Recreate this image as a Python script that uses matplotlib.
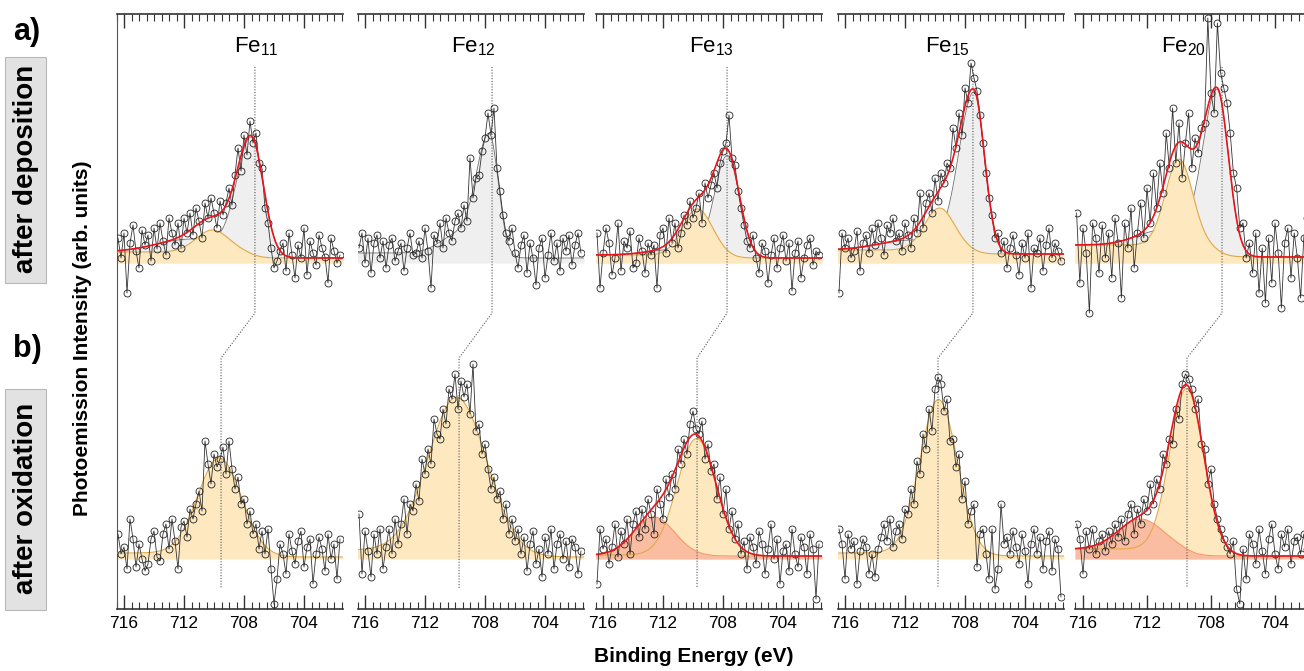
import numpy as np
import matplotlib
matplotlib.use("Agg")
import matplotlib.pyplot as plt
from matplotlib.patches import Rectangle
from matplotlib.ticker import MultipleLocator, FixedLocator

plt.rcParams['font.family'] = ['Liberation Sans', 'DejaVu Sans']
plt.rcParams['mathtext.fontset'] = 'custom'
plt.rcParams['mathtext.rm'] = 'Liberation Sans'
plt.rcParams['mathtext.it'] = 'Liberation Sans:italic'

# binding energy grid of the measured spectra (eV)
energy = np.round(np.arange(716.4, 701.55, -0.2), 1)

clusters = ['Fe$_{11}$', 'Fe$_{12}$', 'Fe$_{13}$', 'Fe$_{15}$', 'Fe$_{20}$']

# measured intensities above baseline (arb. units), after deposition
dep_fe11 = [25, 5, 30, -30, 20, 38, 12, -5, 33, 18,
            28, 2, 35, 14, 40, 22, 8, 45, 30, 18,
            40, 15, 45, 30, 50, 28, 55, 42, 25, 60,
            45, 65, 50, 35, 62, 48, 60, 75, 58, 88,
            115, 92, 128, 108, 142, 120, 130, 100, 95, 55,
            40, 15, -5, 2, 12, 20, -8, 30, 8, -15,
            18, 5, 35, -12, 22, 10, -2, 28, 15, 6,
            -20, 25, 12, 0, 8]
dep_fe12 = [15, 30, 0, 25, -10, 20, 28, 5, 22, -5,
            18, 25, 2, 12, 20, -8, 15, 30, 8, 10,
            22, 5, 35, 12, -25, 28, 20, 40, 15, 45,
            30, 22, 42, 50, 35, 58, 42, 105, 65, 85,
            88, 112, 125, 150, 128, 155, 95, 72, 48, 30,
            22, 35, 10, -5, 18, 28, -10, 20, 5, -22,
            15, 25, -15, 8, 30, 2, 20, -8, 25, 12,
            28, -2, 18, 30, 10]
dep_fe13 = [30, -25, 10, 35, 20, -12, 5, 40, -8, 22,
            15, 32, -5, 0, 25, 12, -10, 20, 8, 18,
            -25, 28, 35, 10, 45, 20, 40, 15, 30, 48,
            38, 62, 45, 55, 70, 40, 80, 65, 78, 90,
            75, 100, 112, 120, 148, 105, 98, 72, 55, 38,
            22, 15, 28, 5, -10, 20, 12, -20, 8, 25,
            -5, 15, 28, 2, 20, -28, 10, 22, -15, 5,
            18, 25, -2, 12, 8]
dep_fe15 = [-30, 30, 15, 25, 5, 12, 32, -8, 20, 28,
            10, 35, 18, 40, 25, 8, 38, 30, 45, 22,
            30, 12, 40, 28, 15, 45, 30, 70, 35, 60,
            70, 50, 85, 62, 90, 80, 100, 95, 135, 115,
            150, 128, 175, 160, 200, 185, 172, 148, 120, 90,
            65, 48, 25, 30, 10, 22, -5, 15, 28, 8,
            -12, 20, 5, 30, -25, 15, 10, 25, -8, 18,
            35, 5, 20, 12, 2]
dep_fe20 = [50, -20, 35, 10, -50, 40, 25, -10, 38, 5,
            30, -15, 45, 20, -35, 40, 15, 55, -5, 30,
            60, 25, 75, 40, 90, 55, 100, 70, 130, 95,
            155, 100, 140, 85, 120, 150, 95, 125, 110, 135,
            140, 245, 170, 150, 240, 190, 175, 160, 130, 90,
            75, 35, 40, 5, 20, -10, 30, -30, 15, -40,
            25, -20, 40, 10, -45, 20, 35, -15, 30, 5,
            -35, 25, 45, -10, 20]

# measured intensities above baseline (arb. units), after oxidation
ox_fe11 = [25, 5, 12, -10, 40, 20, -8, 15, 0, -12,
           -5, 20, 28, 2, -2, 25, 35, 10, 40, 18,
           -10, 32, 38, 22, 50, 40, 55, 68, 48, 118,
           95, 75, 105, 92, 100, 112, 85, 118, 90, 70,
           82, 55, 60, 35, 48, 25, 35, 10, 28, 5,
           30, -10, -45, -20, 15, 5, -15, 25, 8, -5,
           18, 28, -8, 12, 20, -25, 5, 22, 10, -12,
           25, 0, 15, -20, 20]
ox_fe12 = [45, -15, 28, 8, -18, 25, 5, 30, -10, 12,
           30, 5, 40, 15, 35, 60, 25, 55, 48, 75,
           58, 100, 85, 110, 95, 140, 125, 120, 150, 135,
           170, 160, 185, 150, 178, 162, 175, 145, 195, 128,
           135, 105, 115, 90, 70, 82, 60, 68, 40, 55,
           25, 40, 18, 30, 5, 22, -12, 15, 28, -5,
           10, -18, 22, 5, 30, -10, 15, 25, 0, 18,
           -8, 20, 12, -15, 8]
ox_fe13 = [-25, 30, 10, 20, -5, 12, 35, 2, 28, 15,
           40, 5, 35, 48, 22, 50, 30, 60, 45, 25,
           70, 55, 40, 80, 62, 85, 70, 110, 95, 120,
           105, 135, 148, 130, 125, 138, 100, 115, 88, 95,
           60, 82, 45, 70, 30, 48, 20, 35, 5, 18,
           -10, 22, 12, -5, 28, 15, -15, 10, 35, 0,
           20, -25, 8, 15, -12, 30, 5, -8, 22, 12,
           -15, 25, 10, -40, 15]
ox_fe15 = [30, 15, -20, 25, 10, 18, -25, 8, 20, 12,
           -15, 5, -18, 10, 22, 35, 18, 40, 12, 28,
           35, 20, 50, 45, 70, 55, 98, 85, 125, 110,
           150, 128, 170, 182, 175, 148, 160, 118, 120, 92,
           105, 60, 78, 35, 48, 55, -8, 25, 30, 5,
           -20, 30, -30, -10, 55, 15, 22, 5, 28, 12,
           -5, 25, 8, -25, 15, 30, 5, 22, -10, 18,
           28, -12, 20, 10, -38]
ox_fe20 = [35, 20, -15, 28, 10, 30, 5, 18, 25, 8,
           28, 15, 35, 22, 40, 18, 45, 55, 25, 50,
           35, 60, 48, 75, 55, 80, 70, 105, 95, 120,
           115, 150, 140, 175, 185, 180, 170, 150, 160, 115,
           110, 75, 90, 55, 40, 30, 20, 12, 5, 18,
           -30, -45, 10, -20, 25, 15, -5, 30, 8, -15,
           20, 35, 5, -10, 25, 12, 30, -5, 18, 22,
           5, 25, 10, 15, 20]

dep_data = [dep_fe11, dep_fe12, dep_fe13, dep_fe15, dep_fe20]
ox_data = [ox_fe11, ox_fe12, ox_fe13, ox_fe15, ox_fe20]

# fit parameters: (centre eV, height, sigma high-BE side, sigma low-BE side)
dep_grey = [[(707.5, 115, 0.95, 0.8), (711.5, 13, 2.3, 2.3)],
            [(707.7, 118, 0.85, 0.6), (709.8, 18, 1.2, 1.2)],
            [(707.7, 100, 0.85, 0.8), (711.0, 6, 1.8, 1.8)],
            [(707.4, 158, 1.0, 0.7), (711.5, 10, 2.2, 2.2)],
            [(707.6, 160, 0.9, 0.7), (711.0, 15, 1.6, 1.6)]]
dep_orange = [(710.1, 22, 1.1), None, (709.7, 46, 1.0), (709.7, 42, 1.0), (710.0, 86, 0.85)]
dep_bg = [(11, 5), (10, 5), (8, 5), (13, 9), (18, 6)]

ox_orange = [(709.6, 97, 1.45), (709.8, 156, 1.95), (709.75, 117, 1.3),
             (709.75, 155, 1.25), (709.5, 164, 1.06)]
ox_salmon = [None, None, (712.6, 38, 1.35), None, (712.4, 30, 1.4)]
ox_bg = [(6, 2), (9, 2), (4, 3), (6, 3), (10, 3)]

# peak positions marked by the dotted guide lines
dep_line = [707.27, 707.53, 707.73, 707.47, 707.31]
ox_line = [709.53, 709.73, 709.73, 709.8, 709.5]
label_pos = [707.2, 708.8, 708.8, 709.2, 709.75]

W, H = 1304, 671
col_left = [116.5, 357.5, 595.5, 837.5, 1075]
col_width = [226.5, 226.5, 226.5, 226.5, 241.6]
top_base, bot_base = 346, 50

C_GREY = '#efefef'
C_ORANGE = '#fde8c0'
C_ORANGE_LN = '#dfa94a'
C_SALMON = '#fbbda2'
C_SALMON_LN = '#f49a68'
C_RED = '#e8141c'


def peak(x, c, h, s_hi, s_lo):
    s = np.where(x > c, s_hi, s_lo)
    return h * np.exp(-(x - c) ** 2 / (2 * s ** 2))


def background(x, c, b_hi, b_lo):
    return b_lo + (b_hi - b_lo) / (1 + np.exp(-(x - c) / 0.4))


xf = np.linspace(716.5, 701.4, 700)

fig = plt.figure(figsize=(W / 100, H / 100), dpi=100)

for k in range(5):
    ax = fig.add_axes([col_left[k] / W, 62 / H, col_width[k] / W, 595 / H])
    ax.set_xlim(716.5, 701.4)
    ax.set_ylim(0, 595)

    # ---- after deposition ----
    g = dep_grey[k]
    bg = background(xf, g[0][0], *dep_bg[k])
    grey = bg + sum(peak(xf, *p) for p in g)
    ax.fill_between(xf, top_base, top_base + grey, color=C_GREY, lw=0, zorder=1)
    ax.plot(xf, top_base + grey, color='#6e6e6e', lw=0.6, zorder=2)
    if dep_orange[k] is not None:
        c, h, s = dep_orange[k]
        orange = peak(xf, c, h, s, s)
        ax.fill_between(xf, top_base, top_base + bg + orange, color=C_ORANGE, lw=0, zorder=2)
        ax.plot(xf, top_base + bg + orange, color=C_ORANGE_LN, lw=0.8, zorder=3)
        total = grey + orange
        ax.plot(xf, top_base + total, color=C_RED, lw=1.2, zorder=6)
    ax.plot(energy, top_base + np.array(dep_data[k]), '-', color='#333333', lw=0.6,
            marker='o', ms=5, mfc='none', mec='#222222', mew=0.6, zorder=5)

    # ---- after oxidation ----
    c, h, s = ox_orange[k]
    bg = background(xf, c, *ox_bg[k])
    orange = peak(xf, c, h, s, s)
    ax.fill_between(xf, bot_base, bot_base + bg + orange, color=C_ORANGE, lw=0, zorder=1)
    ax.plot(xf, bot_base + bg + orange, color=C_ORANGE_LN, lw=0.8, zorder=3)
    if ox_salmon[k] is not None:
        cs, hs, ss = ox_salmon[k]
        salmon = peak(xf, cs, hs, ss, ss)
        ax.fill_between(xf, bot_base, bot_base + bg + salmon, color=C_SALMON, lw=0, zorder=2)
        ax.plot(xf, bot_base + bg + salmon, color=C_SALMON_LN, lw=0.8, zorder=3)
        ax.plot(xf, bot_base + bg + orange + salmon, color=C_RED, lw=1.2, zorder=6)
    ax.plot(energy, bot_base + np.array(ox_data[k]), '-', color='#333333', lw=0.6,
            marker='o', ms=5, mfc='none', mec='#222222', mew=0.6, zorder=5)

    # guide line between the two peak positions
    ax.plot([dep_line[k], dep_line[k], ox_line[k], ox_line[k]], [542, 296, 251, 21],
            ls=(0, (1, 1.5)), color='#555555', lw=0.8, zorder=4)

    ax.text(label_pos[k], 557, clusters[k], ha='center', va='baseline', fontsize=16)

    # axes styling
    for side in ['right', 'left']:
        ax.spines[side].set_visible(False)
    if k == 0:
        ax.spines['left'].set_visible(True)
        ax.spines['left'].set_color('#555555')
        ax.spines['left'].set_linewidth(0.8)
    for side in ['top', 'bottom']:
        ax.spines[side].set_color('#333333')
        ax.spines[side].set_linewidth(1.2)
    ax.set_yticks([])
    ax.xaxis.set_major_locator(FixedLocator([716, 712, 708, 704]))
    ax.xaxis.set_minor_locator(MultipleLocator(0.5))
    ax.tick_params(axis='x', which='both', direction='in', top=True, bottom=True,
                   labeltop=False, labelbottom=True, color='#333333')
    ax.tick_params(axis='x', which='major', length=10, width=1.0, pad=5, labelsize=12.5)
    ax.tick_params(axis='x', which='minor', length=5, width=0.8)

# row labels
fig.text(27 / W, 1 - 32 / H, 'a)', fontsize=22, fontweight='bold', ha='center', va='center')
fig.text(27 / W, 1 - 349 / H, 'b)', fontsize=22, fontweight='bold', ha='center', va='center')
for y0, y1, label in [(57, 283, 'after deposition'), (389, 610, 'after oxidation')]:
    fig.add_artist(Rectangle((5 / W, 1 - y1 / H), 41 / W, (y1 - y0) / H,
                             transform=fig.transFigure, facecolor='#e2e2e2',
                             edgecolor='#b8b8b8', lw=0.8))
    fig.text(26 / W, 1 - ((y0 + y1) / 2 - 1) / H, label, rotation=90, fontsize=20,
             fontweight='bold', ha='center', va='center')

fig.text(83 / W, 1 - 338 / H, 'Photoemission Intensity (arb. units)', rotation=90,
         fontsize=15, fontweight='bold', ha='center', va='center')
fig.text(694 / W, 1 - 657 / H, 'Binding Energy (eV)', fontsize=15, fontweight='bold',
         ha='center', va='center')

fig.savefig('out.png', dpi=100)
